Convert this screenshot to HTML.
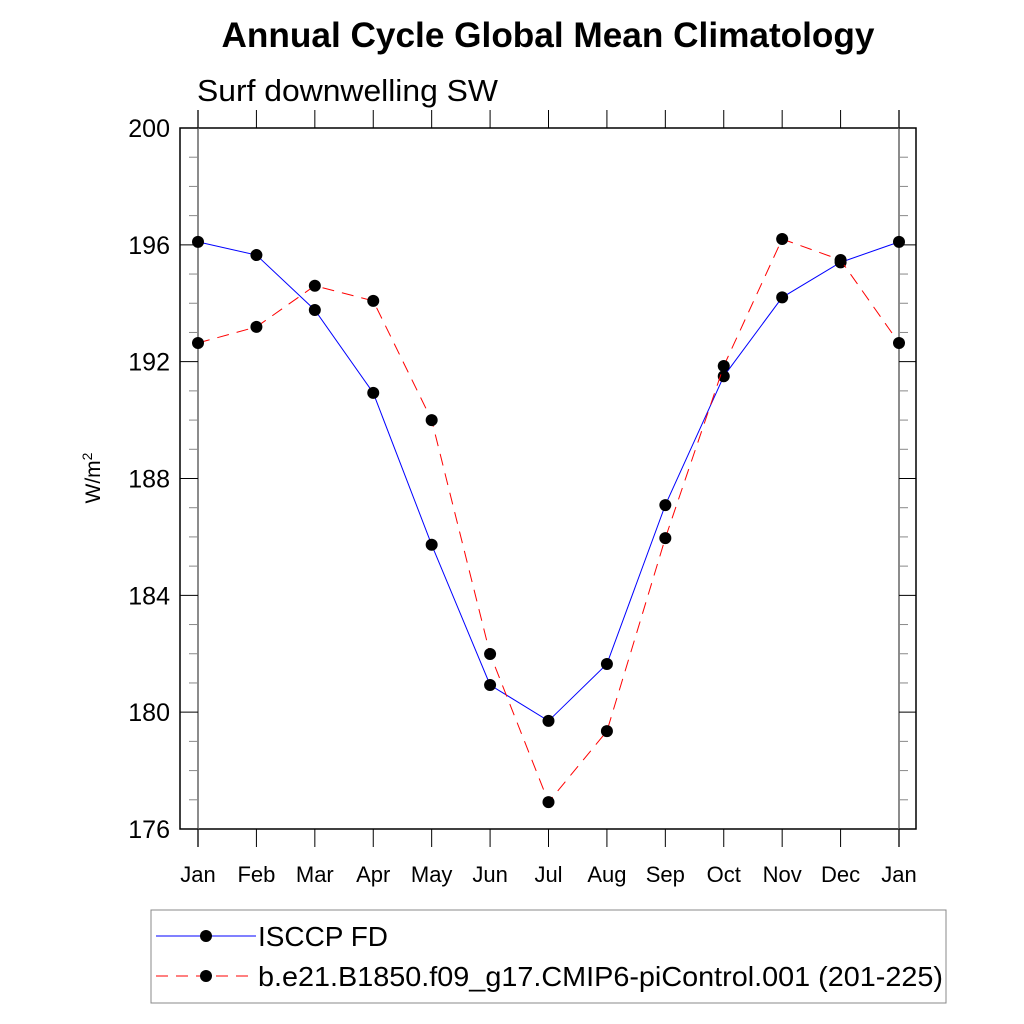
<!DOCTYPE html>
<html><head><meta charset="utf-8"><style>body{margin:0;background:#fff}svg{display:block;font-family:"Liberation Sans",sans-serif}</style></head>
<body>
<svg id="c" width="1024" height="1024">
<text x="548" y="47" text-anchor="middle" font-size="35" font-weight="bold" textLength="653" lengthAdjust="spacingAndGlyphs">Annual Cycle Global Mean Climatology</text>
<text x="197" y="101" font-size="31" textLength="301" lengthAdjust="spacingAndGlyphs">Surf downwelling SW</text>
<text transform="translate(100,478) rotate(-90)" text-anchor="middle" font-size="21">W/m<tspan dy="-8" font-size="14">2</tspan></text>
<rect x="180" y="128" width="736" height="701" fill="none" stroke="#000" stroke-width="1.5"/>
<g id="axes"></g><g id="series"></g>
<rect x="151" y="910" width="795" height="93" fill="none" stroke="#888" stroke-width="1"/>
<g>
<line x1="156" y1="936" x2="256" y2="936" stroke="#0000ff" stroke-width="1"/><circle cx="206" cy="936" r="6"/>
<text x="258" y="946" font-size="28" textLength="130" lengthAdjust="spacingAndGlyphs">ISCCP FD</text></g>
<g>
<line x1="156" y1="976" x2="256" y2="976" stroke="#ff0000" stroke-width="1" stroke-dasharray="12,8"/><circle cx="206" cy="976" r="6"/>
<text x="258" y="986" font-size="28" textLength="685" lengthAdjust="spacingAndGlyphs">b.e21.B1850.f09_g17.CMIP6-piControl.001 (201-225)</text></g>
</svg>
<script>
const months=["Jan","Feb","Mar","Apr","May","Jun","Jul","Aug","Sep","Oct","Nov","Dec","Jan"];
const obsVals=[196.1,195.65,193.77,190.93,185.73,180.93,179.70,181.65,187.09,191.5,194.2,195.4,196.1];
const modelVals=[192.64,193.19,194.6,194.08,190.0,181.99,176.92,179.35,185.96,191.85,196.2,195.48,192.64];
const yTicks=[176,180,184,188,192,196,200];
const NS="http://www.w3.org/2000/svg";
const x=i=>198+i*(701/12), y=v=>829-(v-176)*(701/24);
function mk(t,a,p){const e=document.createElementNS(NS,t);for(const k in a)e.setAttribute(k,a[k]);p.appendChild(e);return e;}
const ax=document.getElementById('axes');
mk('line',{x1:198,y1:110,x2:198,y2:847,stroke:'#666','stroke-width':1.5},ax);
mk('line',{x1:899,y1:110,x2:899,y2:847,stroke:'#666','stroke-width':1.5},ax);
months.forEach((m,i)=>{
 const t=mk('line',{x1:x(i),y1:110,x2:x(i),y2:128,stroke:'#000'},ax);
 
 const b=mk('line',{x1:x(i),y1:829,x2:x(i),y2:847,stroke:'#000'},ax);
 
 const l=mk('text',{x:x(i),y:882,'text-anchor':'middle','font-size':22},ax);l.textContent=m;
 
});
for(let v=176;v<=200;v++){
 const maj=v%4===0;
 mk('line',{x1:maj?180:189,y1:y(v),x2:198,y2:y(v),stroke:maj?'#000':'#888'},ax);
 mk('line',{x1:899,y1:y(v),x2:maj?916:908,y2:y(v),stroke:maj?'#000':'#888'},ax);
}
yTicks.forEach(v=>{const l=mk('text',{x:170,y:y(v)+9,'text-anchor':'end','font-size':25},ax);l.textContent=v;
 });
const sg=document.getElementById('series');
function series(vals,color,dash,name){
 const g=mk('g',{},sg);
 
 
 mk('polyline',{points:vals.map((v,i)=>x(i)+','+y(v)).join(' '),fill:'none',stroke:color,'stroke-width':1,'stroke-dasharray':dash},g);
 vals.forEach((v,i)=>{const c=mk('circle',{cx:x(i),cy:y(v),r:6,fill:'#000'},g);
  });
}
series(obsVals,'#0000ff','none','isccp-series');
series(modelVals,'#ff0000','12,8','model-series');
</script>
</body></html>
